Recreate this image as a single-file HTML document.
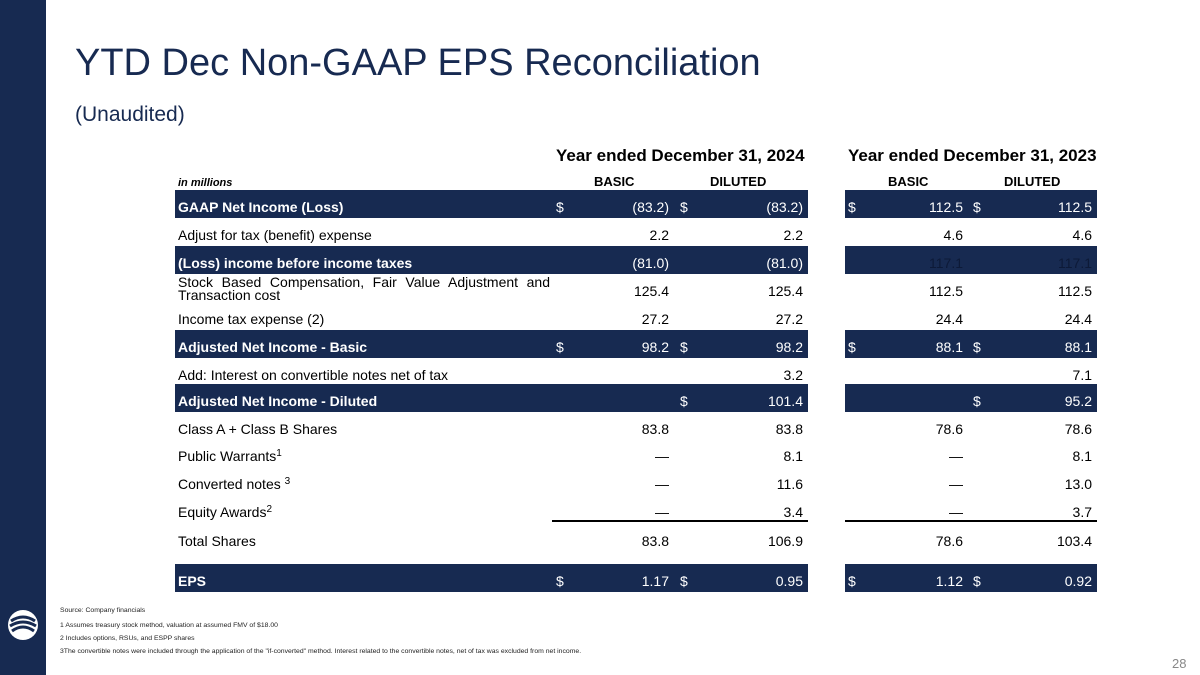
<!DOCTYPE html>
<html><head><meta charset="utf-8"><style>
*{margin:0;padding:0;box-sizing:border-box}
body{width:1200px;height:675px;position:relative;background:#fff;font-family:"Liberation Sans",Arial,sans-serif;color:#000;overflow:hidden}
.a{position:absolute;white-space:nowrap}
.bar{position:absolute;background:#172a51;height:28px}
.t{position:absolute;font-size:14px;line-height:16px;white-space:nowrap}
.t sup{font-size:10px;line-height:0;vertical-align:5px}
.r{text-align:right}
.w{color:#fff}
.b{font-weight:bold}
.fn{position:absolute;left:60px;font-size:6.85px;color:#222;white-space:nowrap}
</style></head><body>
<div class="a" style="left:0;top:0;width:46px;height:675px;background:#172a51"></div>
<svg class="a" style="left:6px;top:608px" width="34" height="34" viewBox="0 0 34 34">
<circle cx="17" cy="17" r="15" fill="#fff"/>
<path d="M5 13 Q17 5 29 13" stroke="#172a51" stroke-width="3" fill="none"/>
<path d="M4 18 Q17 10 30 18" stroke="#172a51" stroke-width="3" fill="none"/>
<path d="M6 23 Q17 15 28 23" stroke="#172a51" stroke-width="3" fill="none"/>
</svg>
<div class="a" style="left:75px;top:42px;font-size:38px;color:#172a51">YTD Dec Non-GAAP EPS Reconciliation</div>
<div class="a" style="left:75px;top:103px;font-size:21px;color:#172a51">(Unaudited)</div>
<div class="a b" style="left:556px;top:146px;font-size:17px">Year ended December 31, 2024</div>
<div class="a b" style="left:848px;top:146px;font-size:17px">Year ended December 31, 2023</div>
<div class="t b" style="left:178px;top:175px;font-size:11px;font-style:italic">in millions</div>
<div class="t b" style="left:594px;top:174px;font-size:13px">BASIC</div>
<div class="t b" style="left:710px;top:174px;font-size:13px">DILUTED</div>
<div class="t b" style="left:888px;top:174px;font-size:13px">BASIC</div>
<div class="t b" style="left:1004px;top:174px;font-size:13px">DILUTED</div>

<div id="rows"></div>
<div class="a" style="left:552px;top:520px;width:256px;height:1.5px;background:#000"></div>
<div class="a" style="left:845px;top:520px;width:252px;height:1.5px;background:#000"></div>

<div class="fn" style="top:607px">Source: Company financials</div>
<div class="fn" style="top:622px">1 Assumes treasury stock method, valuation at assumed FMV of $18.00</div>
<div class="fn" style="top:635px">2 Includes options, RSUs, and ESPP shares</div>
<div class="fn" style="top:648px">3The convertible notes were included through the application of the "if-converted" method.  Interest related to the convertible notes, net of tax was excluded from net income.</div>
<div class="a" style="left:1172px;top:656px;font-size:13px;color:#888">28</div>
<script>
const labels=["GAAP Net Income (Loss)","Adjust for tax (benefit) expense","(Loss) income before income taxes","Stock Based Compensation, Fair Value Adjustment and Transaction cost","Income tax expense (2)","Adjusted Net Income - Basic","Add: Interest on convertible notes net of tax","Adjusted Net Income - Diluted","Class A + Class B Shares","Public Warrants<sup>1</sup>","Converted notes <sup>3</sup>","Equity Awards<sup>2</sup>","Total Shares","EPS"];
const basic24=["(83.2)","2.2","(81.0)","125.4","27.2","98.2","","","83.8","—","—","—","83.8","1.17"];
const dil24=["(83.2)","2.2","(81.0)","125.4","27.2","98.2","3.2","101.4","83.8","8.1","11.6","3.4","106.9","0.95"];
const basic23=["112.5","4.6","117.1","112.5","24.4","88.1","","","78.6","—","—","—","78.6","1.12"];
const dil23=["112.5","4.6","117.1","112.5","24.4","88.1","7.1","95.2","78.6","8.1","13.0","3.7","103.4","0.92"];
const dollarB=[1,0,0,0,0,1,0,0,0,0,0,0,0,1];
const dollarD=[1,0,0,0,0,1,0,1,0,0,0,0,0,1];
const hilite=[1,0,1,0,0,1,0,1,0,0,0,0,0,1];
const rowY=[204,232,260,288,316,344,372,398,426,454,482,510,538,578];
const host=document.getElementById('rows');
function mk(cls,style,html){const d=document.createElement('div');d.className=cls;d.style.cssText=style;d.innerHTML=html;host.appendChild(d);return d;}
labels.forEach((lab,i)=>{
 const y=rowY[i], h=hilite[i];
 if(h){
  const b1=mk('bar',`left:175px;top:${y-14}px;width:633px`,'');
  
  
  const b2=mk('bar',`left:845px;top:${y-14}px;width:252px`,'');
  
  
 }
 const tc=h?' w b':'';
 const two=(i==3);
 const ty=(i>=9&&i<=11)?y-6:y-5;
 const l=mk('t'+tc,`left:178px;top:${two?y-12:ty}px;${two?'width:372px;white-space:normal;text-align:justify;line-height:13px':''}`,lab);
 
 
 const vc='t r'+(h?' w':'');
 const v1=mk(vc,`left:569px;width:100px;top:${ty}px`,basic24[i]);
 
 
 const v2=mk(vc,`left:703px;width:100px;top:${ty}px`,dil24[i]);
 
 
 const v3=mk('t r'+(h?(i==2?'':' w'):''),`left:863px;width:100px;top:${ty}px;${i==2?'color:#0d1a38':''}`,basic23[i]);
 
 
 const v4=mk('t r'+(h?(i==2?'':' w'):''),`left:992px;width:100px;top:${ty}px;${i==2?'color:#0d1a38':''}`,dil23[i]);
 
 
 if(dollarB[i]){
  const d1=mk('t w',`left:556px;top:${ty}px`,'$');
  
  
  const d3=mk('t w',`left:848px;top:${ty}px`,'$');
  
  
 }
 if(dollarD[i]){
  const d2=mk('t w',`left:680px;top:${ty}px`,'$');
  
  
  const d4=mk('t w',`left:973px;top:${ty}px`,'$');
  
  
 }
});
</script>
</body></html>
